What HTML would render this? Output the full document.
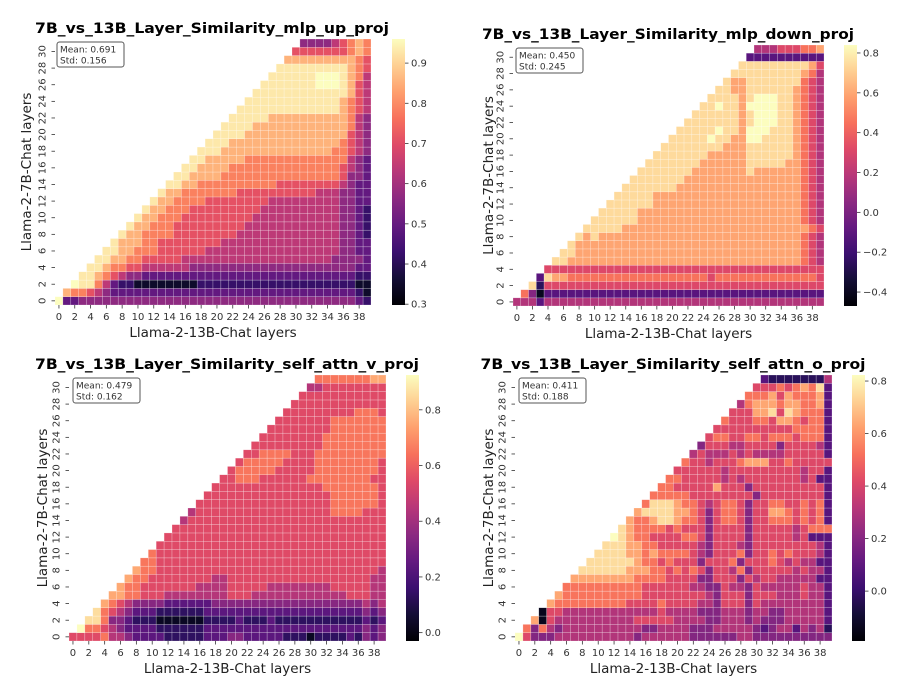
<!DOCTYPE html>
<html><head><meta charset="utf-8">
<style>
html,body{margin:0;padding:0;background:#fff;width:908px;height:689px;overflow:hidden}
svg{display:block;font-family:"DejaVu Sans","Liberation Sans",sans-serif}
</style></head>
<body>
<svg id="fig" width="908" height="689" viewBox="0 0 908 689" xmlns="http://www.w3.org/2000/svg">
<defs>
<linearGradient id="magma" x1="0" y1="1" x2="0" y2="0">
<stop offset="0" stop-color="#000004"/><stop offset="0.1" stop-color="#140e36"/><stop offset="0.2" stop-color="#3b0f70"/><stop offset="0.3" stop-color="#641a80"/><stop offset="0.4" stop-color="#8c2981"/><stop offset="0.5" stop-color="#b73779"/><stop offset="0.6" stop-color="#de4968"/><stop offset="0.7" stop-color="#f7705c"/><stop offset="0.8" stop-color="#fe9f6d"/><stop offset="0.9" stop-color="#fecf92"/><stop offset="1" stop-color="#fcfdbf"/>
</linearGradient>
</defs>
</svg>
<script>
// ---- data (digit levels per cell, row 0 first; row r starts at column r, '.' = masked) ----
const upRows = [
"9223333333333333333333333333333333333321",
".766543222222222222222222222222222222210",
"..98864211000000001111111111111111111100",
"...8876543322222222222222222222222222211",
"....887665544444433333333333333333333322",
".....88776655555444444444444444444433332",
"......8877666555555444444444444444443322",
".......877766555555554444444444444443322",
"........87766665555555544444444444443321",
".........8776665555555554444444444443321",
"..........877666555555555444444444443321",
"...........87766655555555544444444443321",
"............8776666555555554444444443322",
".............877666666655555555554443322",
"..............88776666666666555555554322",
"...............8877776666666666666665332",
"................887777666666666666665432",
".................88777776666666666666432",
"..................8887777777777777766543",
"...................888777777777777776543",
"....................88887777777777777543",
".....................8888777777777777643",
"......................888887777777777643",
".......................88888888888887654",
"........................8888888888887654",
".........................888888888888754",
"..........................88888889998754",
"...........................8888889998764",
"............................888888888765",
".............................77777777765",
"..............................5555555676",
"...............................333345676"];
const downRows = [
"4442444444444444444444444444444444444444",
".630222222222222222222222222222222222222",
"..81555555555555555555555555555555555555",
"...2877666666666666666666566666666666665",
"....555555555555555555555555555555555555",
".....88777777777777777777777777777777654",
"......8877777777777777777777777777777654",
".......877777777777777777777777777777654",
"........87877777777777777777777777777654",
".........88888777777777777777777777777654",
"..........888888777777777777777777777654",
"...........88888777777777777777777777654",
"............8888887777777777777777777654",
".............888887777777777777777777654",
"..............88888887777777777777777654",
"...............8888888777777777777777654",
"................888888877777778777777654",
".................88888887777778888877654",
"..................8888888777778888887654",
"...................888888887778888887654",
"....................88888988779988887654",
".....................8888898879998887654",
"......................888888878999887654",
".......................88888878999887654",
"........................8898879999887654",
".........................888878999887654",
"..........................88778888887654",
"...........................8778888888654",
"............................888888888764",
".............................88888888875",
"..............................2222222222",
"...............................444555667"];
const vRows = [
"5555644322221111122233222221110111121323",
".966543222211111122222222222222222222323",
"..88633211100000011112111211111111111212",
"...8654322211111122222222222222222222323",
"....765433332222223333333333333333333434",
".....77665554444444455544444444444455544",
"......766555555544445555544444444555554",
".......766555555554455555555555555555544",
"........76655555555555555555555555555554",
".........665555555555555555555555555555",
"..........655555555555555555555555555555",
"...........55555555555555555555555555555",
"............5555555555555555555555555555",
".............555555555555555555555555555",
"..............45555555555555555555555555",
"...............4555555555555555556666555",
"................555555555555555556666665",
".................55555555555555556666665",
"..................5555555555555566666665",
"...................556665555556666666655",
"....................56666655555666666665",
".....................5666665555666666665",
"......................556666555666666666",
".......................55555555566666666",
"........................5555555566666666",
".........................555555556666666",
"..........................55555556666666",
"...........................5555555556665",
"............................555555555555",
".............................55555555555",
"..............................4455555555",
"...............................666666677"];
const oRows = [
"9533344444444443444444333333443333333333",
".636434444444444334444333444443234424341",
"..70544444444445555544443344434333444442",
"...0554444444444445444433344434433444442",
"....766666666655556555544355535444444442",
".....76666666666555555554355535554445442",
"......6666666666555555443354435444445442",
".......777777776666555533555354554444422",
"........88888877766565653554635555545442",
".........8888887665655535556355565454422",
"..........888877676666543555635565655542",
"...........88877665555543555435555555542",
"............98766555566535555355555452",
".............8766665655535555355555456",
"..............76678876653566535566656562",
"...............7888877653566535577656562",
"................688876654566535566556562",
".................66666555555553555555552",
"..................6655555755535555555552",
"...................66555554545555555452",
"....................55555545555555554552",
".....................65545556777556555552",
"......................454445454444555552",
".......................35554455553555542",
"........................5665566566656662",
".........................555555555566662",
"..........................65556657765662",
"...........................5557785876662",
"............................467776776672",
".............................66675766672",
"..............................5556567682",
"...............................211111114"];
// value per digit level: value = lo + d*(hi-lo)/9
const upRange = [0.35, 1.0];
const downRange = [-0.40, 0.88];
const vRange = [0.03, 0.96];
const oRange = [-0.14, 0.86];
const upTicks = [0.3, 0.4, 0.5, 0.6, 0.7, 0.8, 0.9];
const downTicks = [-0.4, -0.2, 0.0, 0.2, 0.4, 0.6, 0.8];
const vTicks = [0.0, 0.2, 0.4, 0.6, 0.8];
const oTicks = [0.0, 0.2, 0.4, 0.6, 0.8];
const xTickLabels = [0,2,4,6,8,10,12,14,16,18,20,22,24,26,28,30,32,34,36,38];
const yTickLabels = [0,2,4,6,8,10,12,14,16,18,20,22,24,26,28,30];
const stats = [["0.691","0.156"],["0.450","0.245"],["0.479","0.162"],["0.411","0.188"]];

const NS = "http://www.w3.org/2000/svg";
const svg = document.getElementById('fig');
const magmaStops = ["#000004","#07061c","#140e36","#251255","#3b0f70","#51127c","#641a80","#782281","#8c2981","#a1307e","#b73779","#cb3e72","#de4968","#ed5a5f","#f7705c","#fc8961","#fe9f6d","#feb77e","#fecf92","#fde7a9","#fcfdbf"];
function hx(c){return [parseInt(c.slice(1,3),16),parseInt(c.slice(3,5),16),parseInt(c.slice(5,7),16)];}
function magma(t){
  t=Math.max(0,Math.min(1,t));
  const p=t*(magmaStops.length-1), i=Math.min(Math.floor(p),magmaStops.length-2), f=p-i;
  const a=hx(magmaStops[i]), b=hx(magmaStops[i+1]);
  return "rgb("+a.map((v,k)=>Math.round(v+(b[k]-v)*f)).join(",")+")";
}
function mk(tag, attrs, parent){
  const e=document.createElementNS(NS,tag);
  for(const k in attrs) e.setAttribute(k,attrs[k]);
  (parent||svg).appendChild(e); return e;
}
function txt(s, attrs, parent){const e=mk('text',attrs,parent); e.textContent=s; return e;}
function fmt(v){const s=v.toFixed(1); return v<0? "\u2212"+s.slice(1): s;}

function draw(cfg){
  const g=mk('g',{});
  
  
  const {x0,y0,x1,y1}=cfg, nC=40, nR=32;
  const cw=(x1-x0)/nC, ch=(y1-y0)/nR;
  const xs=c=>x0+c*cw, ys=r=>y1-(r+1)*ch;
  const cn=v=>(v-cfg.vmin)/(cfg.vmax-cfg.vmin);
  const [lo,hi]=cfg.range;
  cfg.rows.forEach((rs,r)=>{
    const s=rs.replace(/[^0-9]/g,'');
    for(let c=r;c<nC;c++){
      const ch_=s[Math.min(c-r,s.length-1)];
      const d=parseInt(ch_,10); if(isNaN(d)) continue;
      const val=lo+d*(hi-lo)/9;
      const rc=mk('rect',{x:xs(c).toFixed(2),y:ys(r).toFixed(2),width:cw.toFixed(2),height:ch.toFixed(2),fill:magma(cn(val)),stroke:'rgba(255,255,255,0.45)','stroke-width':0.5},g);
      
      
    }
  });
  xTickLabels.forEach(v=>{
    const cx=xs(v)+cw/2;
    mk('line',{x1:cx,x2:cx,y1:y1,y2:y1+3.5,stroke:'#333','stroke-width':0.8},g);
    const t=txt(String(v),{x:cx,y:y1+15,'font-size':10,'text-anchor':'middle',fill:'#333'},g);
    
    
  });
  yTickLabels.forEach(v=>{
    const cy=ys(v)+ch/2;
    mk('line',{x1:x0-3.5,x2:x0,y1:cy,y2:cy,stroke:'#333','stroke-width':0.8},g);
    const t=txt(String(v),{x:0,y:0,'font-size':10,'text-anchor':'middle',fill:'#333',transform:'translate('+(x0-9.5)+','+cy+') rotate(-90)'},g);
    
    
  });
  const title=txt(cfg.title,{x:cfg.tx,y:cfg.ty+5,'font-size':14.5,'font-weight':'bold','text-anchor':'middle',fill:'#000',textLength:cfg.tw,lengthAdjust:'spacingAndGlyphs'},g);
  
  
  const xl=txt('Llama-2-13B-Chat layers',{x:(x0+x1)/2,y:y1+32,'font-size':13.5,'text-anchor':'middle',fill:'#222'},g);
  
  
  const yl=txt('Llama-2-7B-Chat layers',{x:0,y:0,'font-size':13.5,'text-anchor':'middle',fill:'#222',transform:'translate('+(cfg.ylx+5)+','+((y0+y1)/2)+') rotate(-90)'},g);
  
  
  const bx=mk('rect',{x:cfg.bx,y:cfg.by,width:67,height:25,rx:2.5,fill:'#fff',stroke:'#555','stroke-width':1},g);
  
  
  txt('Mean: '+cfg.stats[0],{x:cfg.bx+3,y:cfg.by+10.5,'font-size':9,fill:'#333'},g);
  txt('Std: '+cfg.stats[1],{x:cfg.bx+3,y:cfg.by+21.5,'font-size':9,fill:'#333'},g);
  const cb=mk('rect',{x:cfg.cx,y:y0,width:13,height:y1-y0,fill:'url(#magma)'},g);
  
  
  cfg.ticks.forEach(v=>{
    const cy=y1-cn(v)*(y1-y0);
    mk('line',{x1:cfg.cx+13,x2:cfg.cx+16.5,y1:cy,y2:cy,stroke:'#333','stroke-width':0.8},g);
    const t=txt(fmt(v),{x:cfg.cx+19,y:cy+3.5,'font-size':10,fill:'#333'},g);
    
    
  });
}
draw({name:'heatmap-mlp-up-proj',rows:upRows,range:upRange,vmin:0.298,vmax:0.96,ticks:upTicks,stats:stats[0],
  x0:55,y0:39,x1:371,y1:305,cx:392,title:'7B_vs_13B_Layer_Similarity_mlp_up_proj',tx:212,ty:28,tw:354,ylx:26,bx:57,by:42});
draw({name:'heatmap-mlp-down-proj',rows:downRows,range:downRange,vmin:-0.47,vmax:0.84,ticks:downTicks,stats:stats[1],
  x0:513,y0:45,x1:824,y1:306,cx:844,title:'7B_vs_13B_Layer_Similarity_mlp_down_proj',tx:668,ty:34,tw:372,ylx:488,bx:516,by:48});
draw({name:'heatmap-self-attn-v-proj',rows:vRows,range:vRange,vmin:-0.03,vmax:0.925,ticks:vTicks,stats:stats[2],
  x0:69,y0:375,x1:386,y1:641,cx:406,title:'7B_vs_13B_Layer_Similarity_self_attn_v_proj',tx:227,ty:364,tw:384,ylx:42,bx:73,by:378});
draw({name:'heatmap-self-attn-o-proj',rows:oRows,range:oRange,vmin:-0.19,vmax:0.823,ticks:oTicks,stats:stats[3],
  x0:515,y0:375,x1:832,y1:641,cx:852,title:'7B_vs_13B_Layer_Similarity_self_attn_o_proj',tx:673,ty:364,tw:385,ylx:488,bx:519,by:378});
</script>
</body></html>
